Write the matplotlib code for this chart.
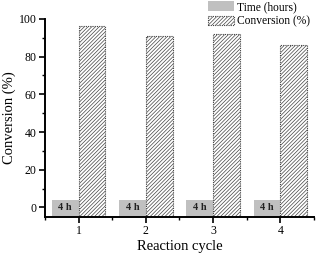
import numpy as np
import matplotlib
matplotlib.use('Agg')
import matplotlib.pyplot as plt

plt.rcParams['font.family'] = 'Liberation Serif'
plt.rcParams['hatch.color'] = '#707070'
plt.rcParams['hatch.linewidth'] = 0.5

#data
cycles = [1, 2, 3, 4]
time_h = [4, 4, 4, 4]
conversion = [96, 91, 92, 86]
time_labels = ['4 h', '4 h', '4 h', '4 h']

base = -5
w = 0.4
x = np.array(cycles)

fig = plt.figure(figsize=(3.16, 2.54), dpi=100)
ax = fig.add_axes([0.142, 0.146, 0.852, 0.78])

ax.bar(x - w/2, np.array(time_h) - base, w, bottom=base, color='#c0c0c0',
       edgecolor='none', label='Time (hours)')
ax.bar(x + w/2, np.array(conversion) - base, w, bottom=base, color='white',
       edgecolor='#444444', hatch='/////////', linewidth=0.8, linestyle=(0, (1, 1)),
       label='Conversion (%)')

for xi, lab in zip(x, time_labels):
    ax.text(xi - w/2, 0, lab, ha='center', va='center', fontsize=7.5,
            fontweight='bold', color='#222222')

ax.set_xlim(0.5, 4.5)
ax.set_ylim(-5, 100)
ax.set_xticks(cycles)
ax.set_xticks([0.5, 1.5, 2.5, 3.5, 4.5], minor=True)
ax.set_yticks([0, 20, 40, 60, 80, 100])
ax.set_yticks([10, 30, 50, 70, 90], minor=True)
ax.spines['top'].set_visible(False)
ax.spines['right'].set_visible(False)
ax.spines['left'].set_bounds(-5, 100)
for s in ['left', 'bottom']:
    ax.spines[s].set_linewidth(1.4)
ax.tick_params(which='major', direction='out', length=4, width=1.2, labelsize=8.5, pad=2)
ax.tick_params(which='minor', direction='out', length=2, width=1.0)

ax.set_xlabel('Reaction cycle', fontsize=10.5, labelpad=2)
ax.set_ylabel('Conversion (%)', fontsize=10.5, labelpad=2)

ax.legend(loc='upper right', bbox_to_anchor=(0.985, 1.0), bbox_transform=fig.transFigure,
          frameon=False, fontsize=8.3,
          handlelength=2.2, handleheight=0.9, handletextpad=0.3, labelspacing=0.2,
          borderaxespad=0, borderpad=0.1)

plt.savefig('out.png', dpi=100)
